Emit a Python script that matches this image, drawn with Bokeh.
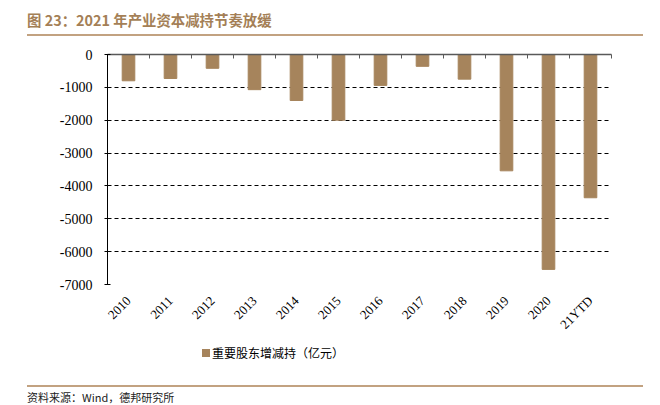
from math import pi
from bokeh.plotting import figure
from bokeh.layouts import column
from bokeh.models import (Range1d, LinearAxis, FixedTicker, ColumnDataSource, Div)
from bokeh.embed import file_html
from bokeh.resources import INLINE

# ---- data ----
categories = ["2010", "2011", "2012", "2013", "2014", "2015", "2016", "2017",
              "2018", "2019", "2020", "21YTD"]
values = [-800, -730, -420, -1070, -1400, -2000, -940, -360, -750, -3540, -6540, -4360]
y_ticks = [0, -1000, -2000, -3000, -4000, -5000, -6000, -7000]
series_name = "重要股东增减持（亿元）"
title_text = "图 23：2021 年产业资本减持节奏放缓"
source_text = "资料来源：Wind，德邦研究所"

BAR = "#a6845c"
TITLE_C = "#a47f56"
LINE_C = "#c2a281"
W = 644

# ---- header ----
header = Div(width=W, height=37, margin=0, text=(
    '<div style="position:relative;width:644px;height:37px;margin:0;padding:0;">'
    '<div style="position:absolute;left:27px;top:10px;height:20px;line-height:20px;'
    "font-family:'Noto Sans CJK SC';font-weight:bold;font-size:14.4px;color:" + TITLE_C + ';'
    'white-space:nowrap;">' + title_text + '</div>'
    '<div style="position:absolute;left:27px;top:34px;width:616px;height:2px;background:'
    + LINE_C + ';"></div></div>'))

# ---- main chart ----
n = len(categories)
centers = [i + 0.5 for i in range(n)]
bounds = list(range(n + 1))

p = figure(width=W, height=303, x_range=Range1d(0, n), y_range=Range1d(y_ticks[-1], y_ticks[0]),
           output_backend="svg", toolbar_location=None,
           min_border_left=107, min_border_right=33, min_border_top=17, min_border_bottom=53)
p.outline_line_color = None
p.background_fill_color = "white"
p.border_fill_color = "white"

src = ColumnDataSource(dict(x=centers, top=values, cat=categories))
bars = p.vbar(x="x", top="top", bottom=0, width=0.3, source=src,
              fill_color=BAR, line_color=BAR)

ya = p.yaxis[0]
ya.ticker = FixedTicker(ticks=y_ticks)
ya.major_label_overrides = {t: str(t) for t in y_ticks}
ya.axis_line_color = "black"
ya.major_tick_line_color = "black"
ya.major_tick_in = 3
ya.major_tick_out = 3
ya.minor_tick_line_color = None
ya.major_label_text_font = "Liberation Serif"
ya.major_label_text_font_size = "14px"
ya.major_label_text_color = "black"
ya.major_label_standoff = 12

xa = p.xaxis[0]
xa.ticker = FixedTicker(ticks=centers)
xa.major_label_overrides = {c: lab for c, lab in zip(centers, categories)}
xa.axis_line_color = None
xa.major_tick_line_color = None
xa.minor_tick_line_color = None
xa.major_label_orientation = pi / 4
xa.major_label_text_font = "Liberation Serif"
xa.major_label_text_font_size = "13px"
xa.major_label_text_color = "black"
xa.major_label_standoff = 8

za = LinearAxis(ticker=FixedTicker(ticks=bounds))
za.axis_line_color = "#595959"
za.axis_line_width = 1.5
za.major_tick_line_color = "#595959"
za.major_tick_in = 4
za.major_tick_out = 0
za.minor_tick_line_color = None
za.major_label_text_font_size = "0px"
za.major_label_standoff = 0
za.major_label_overrides = {b: "" for b in bounds}
p.add_layout(za, "above")

p.xgrid.visible = False
p.ygrid.grid_line_color = "black"
p.ygrid.grid_line_dash = "4 3"
p.ygrid.grid_line_width = 1

# ---- footer: legend key, rule, source ----
footer = Div(width=W, height=63, margin=0, text=(
    '<div style="position:relative;width:644px;height:63px;margin:0;padding:0;">'
    '<div style="position:absolute;left:202px;top:9px;width:8px;height:8px;background:'
    + BAR + ';"></div>'
    '<div style="position:absolute;left:212px;top:5px;height:16px;line-height:16px;'
    "font-family:'Noto Sans CJK SC';font-size:12px;color:#000000;white-space:nowrap;\">"
    + series_name + '</div>'
    '<div style="position:absolute;left:27px;top:45px;width:616px;height:2px;background:'
    + LINE_C + ';"></div>'
    '<div style="position:absolute;left:27px;top:50px;height:14px;line-height:14px;'
    "font-family:'Noto Sans CJK SC';font-size:11px;color:#222222;white-space:nowrap;\">"
    + source_text + '</div></div>'))

layout = column(header, p, footer, spacing=0)
open("out.html", "w").write(file_html(layout, INLINE))
